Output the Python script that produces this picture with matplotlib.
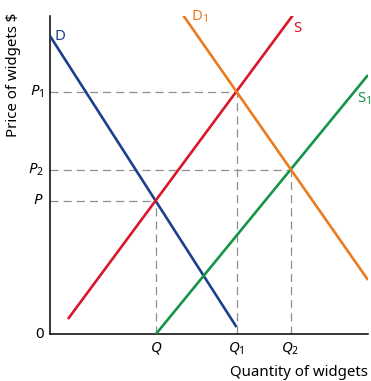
import matplotlib
matplotlib.use("Agg")
import matplotlib.pyplot as plt

plt.rcParams["font.family"] = ["Noto Sans", "DejaVu Sans"]
plt.rcParams["mathtext.fontset"] = "custom"
plt.rcParams["mathtext.rm"] = "Noto Sans"
plt.rcParams["mathtext.it"] = "Noto Sans:italic"

# Curve endpoints (quantity, price)
demand_x = [0, 186.5]
demand_y = [298, 7]
demand1_x = [133, 318]
demand1_y = [319, 54]
supply_x = [18, 243]
supply_y = [15, 319]
supply1_x = [106, 318]
supply1_y = [0, 259]

# Equilibrium quantities and prices
eq_q = [106, 186.5, 240.5]
eq_p = [133, 242, 164.5]
q_labels = ["$Q$", "$Q_1$", "$Q_2$"]
p_labels = ["$P$", "$P_1$", "$P_2$"]

BLUE = "#1c3f8e"
RED = "#d9172a"
GREEN = "#17944a"
ORANGE = "#ec7b1f"
GUIDE = "#8f8f8f"

FS = 10.8

fig = plt.figure(figsize=(3.71, 3.81), dpi=100)
ax = fig.add_axes([50 / 371, 47 / 381, 318 / 371, 318 / 381])
ax.set_xlim(0, 318)
ax.set_ylim(0, 318)

for s in ["top", "right"]:
    ax.spines[s].set_visible(False)
for s in ["left", "bottom"]:
    ax.spines[s].set_linewidth(1.1)
    ax.spines[s].set_color("black")
ax.set_xticks([])
ax.set_yticks([])

# Dashed guides from the equilibria to the axes
for q, p in zip(eq_q, eq_p):
    ax.plot([0, q], [p, p], color=GUIDE, lw=0.9, dashes=(6.5, 4), zorder=1)
    ax.plot([q, q], [0, p], color=GUIDE, lw=0.9, dashes=(6.5, 4), zorder=1)

ax.plot(demand_x, demand_y, color=BLUE, lw=1.9, solid_capstyle="butt", zorder=3)
ax.plot(supply_x, supply_y, color=RED, lw=1.9, solid_capstyle="butt", zorder=3)
ax.plot(supply1_x, supply1_y, color=GREEN, lw=1.9, solid_capstyle="butt", zorder=3)
ax.plot(demand1_x, demand1_y, color=ORANGE, lw=1.9, solid_capstyle="butt", zorder=3)

# Curve names
ax.text(5, 298, "D", color=BLUE, fontsize=FS, ha="left", va="center")
ax.text(141, 317, "D$_1$", color=ORANGE, fontsize=FS, ha="left", va="center")
ax.text(243, 306, "S", color=RED, fontsize=FS, ha="left", va="center")
ax.text(307, 235, "S$_1$", color=GREEN, fontsize=FS, ha="left", va="center", clip_on=False)

# Axis value labels
for q, lab in zip(eq_q, q_labels):
    ax.text(q, -6, lab, fontsize=FS, ha="center", va="top")
for p, lab in zip(eq_p, p_labels):
    ax.text(-6, p, lab, fontsize=FS, ha="right", va="center")
ax.text(-6, 0, "0", fontsize=FS, ha="right", va="center")

ax.text(318, -46, "Quantity of widgets", fontsize=FS, ha="right", va="bottom")
fig.text(14 / 371, 1 - 75 / 381, "Price of widgets $", fontsize=FS,
         rotation=90, ha="center", va="center")

fig.savefig("out.png", dpi=100)
